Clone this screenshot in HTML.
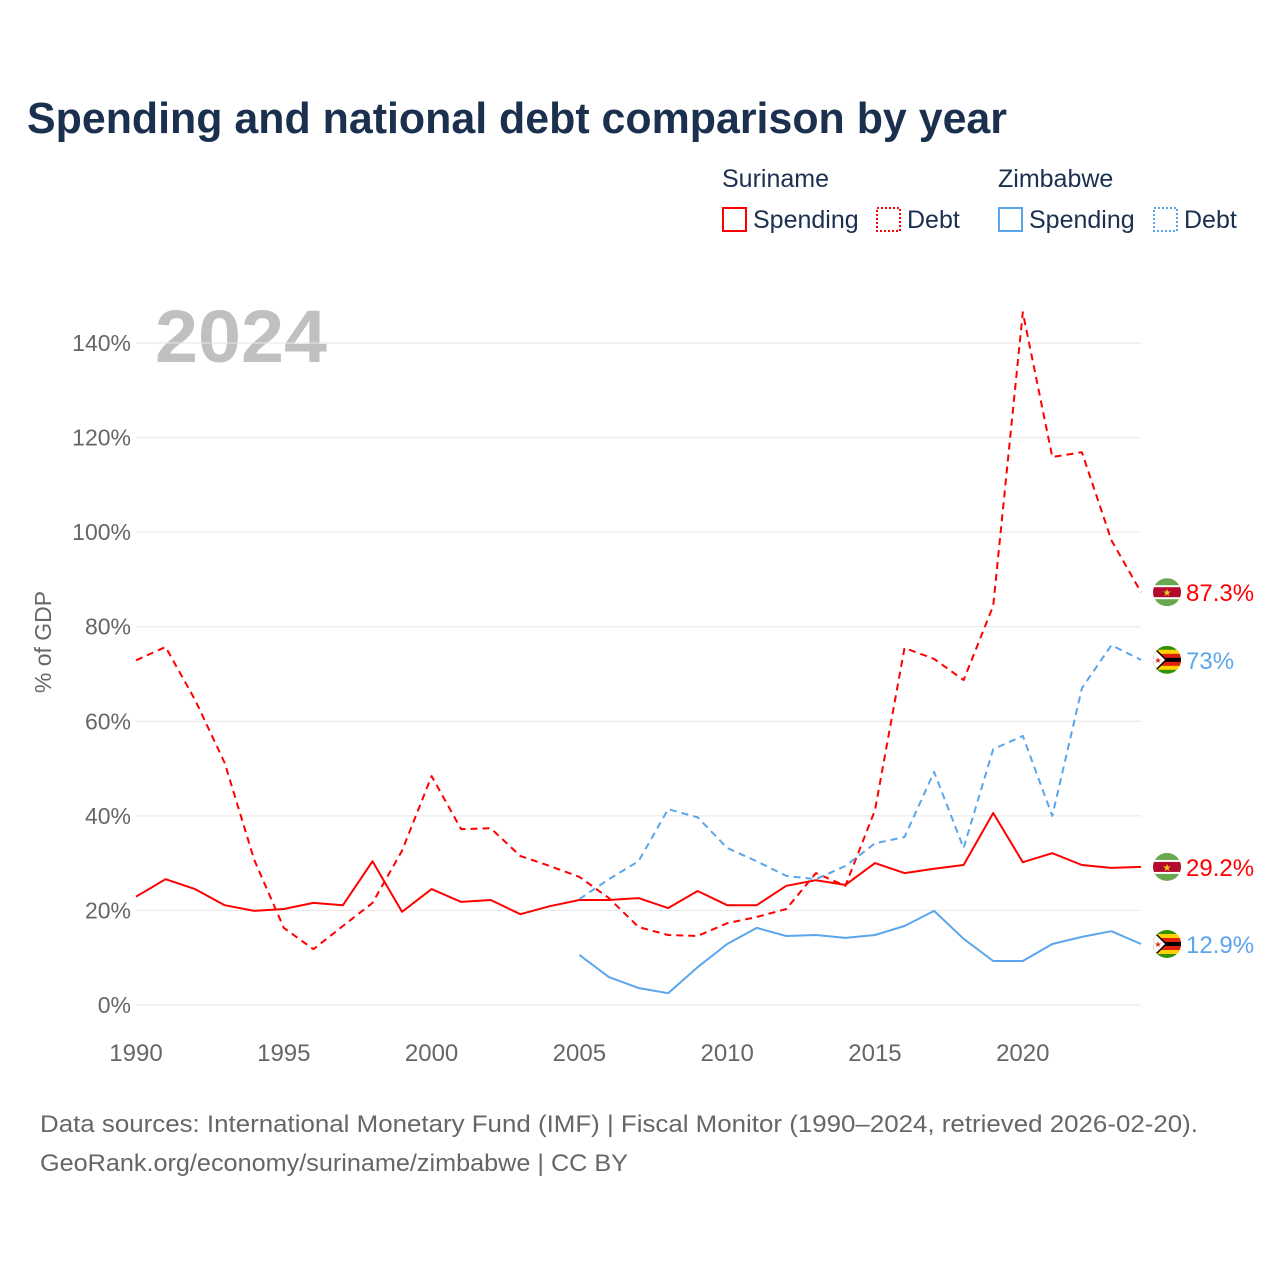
<!DOCTYPE html>
<html><head><meta charset="utf-8">
<style>
body{margin:0;background:#fff;font-family:"Liberation Sans",sans-serif;}
svg text{font-family:"Liberation Sans",sans-serif;}
</style></head>
<body>
<svg width="1280" height="1280" viewBox="0 0 1280 1280" xmlns="http://www.w3.org/2000/svg">
<defs>
<clipPath id="cf"><circle cx="0" cy="0" r="14"/></clipPath>
<g id="fsr">
<g clip-path="url(#cf)">
<rect x="-14" y="-14" width="28" height="28" fill="#6aa84f"/>
<rect x="-14" y="-7" width="28" height="14" fill="#fff"/>
<rect x="-14" y="-5" width="28" height="10" fill="#b40a2d"/>
<text x="0" y="4" font-size="10" text-anchor="middle" fill="#ecc81d">★</text>
</g></g>
<g id="fzw">
<g clip-path="url(#cf)">
<rect x="-14" y="-14" width="28" height="28" fill="#319208"/>
<rect x="-14" y="-10" width="28" height="20" fill="#ffd200"/>
<rect x="-14" y="-6" width="28" height="12" fill="#de2010"/>
<rect x="-14" y="-2" width="28" height="4" fill="#000"/>
<polygon points="-14,-14 0,0 -14,14" fill="#000"/>
<polygon points="-14,-12 -2,0 -14,12" fill="#fff"/>
<text x="-9" y="3" font-size="8" text-anchor="middle" fill="#de2010">★</text>
</g></g>
</defs>
<text x="27" y="133" font-size="44" font-weight="bold" fill="#1b2f4f" textLength="980" lengthAdjust="spacingAndGlyphs">Spending and national debt comparison by year</text>

<g font-size="25" fill="#1b2f4f">
<text x="722" y="187">Suriname</text>
<text x="998" y="187">Zimbabwe</text>
<g><rect x="723" y="208" width="23" height="23" fill="none" stroke="#ff0000" stroke-width="2"/><text x="753" y="228">Spending</text></g>
<g><rect x="877" y="208" width="23" height="23" fill="none" stroke="#ff0000" stroke-width="2" stroke-dasharray="2,2"/><text x="907" y="228">Debt</text></g>
<g><rect x="999" y="208" width="23" height="23" fill="none" stroke="#5aa5ec" stroke-width="2"/><text x="1029" y="228">Spending</text></g>
<g><rect x="1154" y="208" width="23" height="23" fill="none" stroke="#5aa5ec" stroke-width="2" stroke-dasharray="2,2"/><text x="1184" y="228">Debt</text></g>
</g>

<text x="155" y="362" font-size="74" font-weight="bold" fill="#c0c0c0" textLength="172" lengthAdjust="spacingAndGlyphs">2024</text>
<text transform="translate(51,642) rotate(-90)" font-size="23" fill="#666" text-anchor="middle">% of GDP</text>

<g id="grid"></g>
<g id="series"></g>

<text x="40" y="1132" font-size="24" fill="#666" textLength="1158" lengthAdjust="spacingAndGlyphs">Data sources: International Monetary Fund (IMF) | Fiscal Monitor (1990–2024, retrieved 2026-02-20).</text>
<text x="40" y="1171" font-size="24" fill="#666" textLength="588" lengthAdjust="spacingAndGlyphs">GeoRank.org/economy/suriname/zimbabwe | CC BY</text>
</svg>
<script>
const years = Array.from({length:35},(_,i)=>1990+i);
const yTicks = [0,20,40,60,80,100,120,140];
const xTicks = [1990,1995,2000,2005,2010,2015,2020];
const srSpending = [22.9,26.6,24.5,21.1,19.9,20.3,21.6,21.1,30.4,19.7,24.5,21.8,22.2,19.2,20.9,22.2,22.2,22.6,20.5,24.1,21.1,21.1,25.2,26.4,25.4,30.0,27.9,28.8,29.6,40.6,30.2,32.1,29.6,29.0,29.2];
const srDebt = [72.9,75.7,64.5,51.2,30.7,16.3,11.8,16.7,21.6,32.6,48.4,37.2,37.4,31.5,29.4,27.1,22.6,16.5,14.8,14.6,17.3,18.6,20.3,27.9,25.2,41.2,75.5,73.2,68.7,84.4,146.5,115.9,116.9,98.3,87.3];
const zwSpending = [null,null,null,null,null,null,null,null,null,null,null,null,null,null,null,10.6,5.9,3.6,2.5,8.0,12.9,16.3,14.6,14.8,14.2,14.8,16.7,19.9,14.0,9.3,9.3,12.9,14.4,15.6,12.9];
const zwDebt = [null,null,null,null,null,null,null,null,null,null,null,null,null,null,null,22.4,26.6,30.4,41.4,39.7,33.2,30.4,27.3,26.6,29.4,34.2,35.5,49.3,33.2,54.1,56.9,40.0,67.0,76.1,73.0];

const NS='http://www.w3.org/2000/svg';
const X = y => 136 + (y-1990)*(1141-136)/34;
const Y = v => 1005 - v*(1005-343)/140;
function mk(tag, attrs, parent){const e=document.createElementNS(NS,tag);for(const k in attrs)e.setAttribute(k,attrs[k]);parent.appendChild(e);return e;}
const grid=document.getElementById('grid');
yTicks.forEach(t=>{
  const l=mk('line',{x1:136,x2:1141,y1:Y(t),y2:Y(t),stroke:'#e6e6e6','stroke-width':1},grid);
  
  
  const tx=mk('text',{x:131,y:Y(t)+8,'font-size':23,fill:'#666','text-anchor':'end'},grid);
  tx.textContent=t+'%';
  
  
});
xTicks.forEach(t=>{
  const tx=mk('text',{x:X(t),y:1061,'font-size':24,fill:'#666','text-anchor':'middle'},grid);
  tx.textContent=t;
  
  
});
const ser=document.getElementById('series');
function line(vals,color,dash,name){
  const pts=[];vals.forEach((v,i)=>{if(v!==null)pts.push(X(years[i]).toFixed(1)+','+Y(v).toFixed(1));});
  const p=mk('polyline',{points:pts.join(' '),fill:'none',stroke:color,'stroke-width':2,'stroke-linejoin':'round'},ser);
  if(dash)p.setAttribute('stroke-dasharray','7,5');
  
  
}
line(srDebt,'#ff0000',true,'suriname-debt-line');
line(srSpending,'#ff0000',false,'suriname-spending-line');
line(zwDebt,'#5aa5ec',true,'zimbabwe-debt-line');
line(zwSpending,'#5aa5ec',false,'zimbabwe-spending-line');
function endLabel(vals,color,flag,name){
  const v=vals[vals.length-1];
  const u=mk('use',{href:flag,x:1167,y:Y(v)},ser);
  
  
  const t=mk('text',{x:1186,y:Y(v)+9,'font-size':24,fill:color},ser);
  t.textContent=(Math.round(v*10)/10)+'%';
  
  
}
endLabel(srDebt,'#ff0000','#fsr','suriname-debt');
endLabel(zwDebt,'#5aa5ec','#fzw','zimbabwe-debt');
endLabel(srSpending,'#ff0000','#fsr','suriname-spending');
endLabel(zwSpending,'#5aa5ec','#fzw','zimbabwe-spending');
</script>
</body></html>
